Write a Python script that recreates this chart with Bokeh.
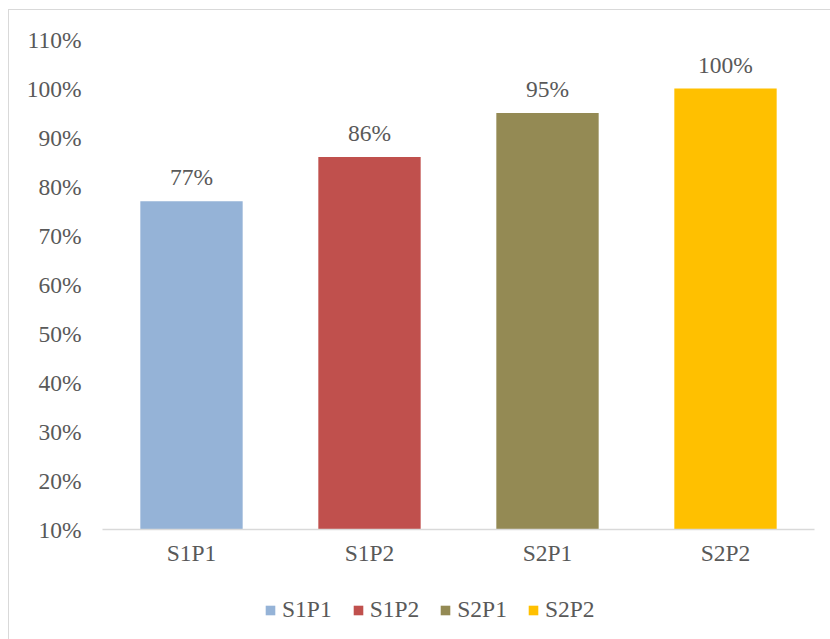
from bokeh.plotting import figure
from bokeh.layouts import column
from bokeh.models import ColumnDataSource, Range1d, NumeralTickFormatter, Legend, LegendItem, FixedTicker
from bokeh.core.properties import value
from bokeh.embed import file_html
from bokeh.resources import INLINE

categories = ["S1P1", "S1P2", "S2P1", "S2P2"]
values = [0.77, 0.86, 0.95, 1.00]
labels = ["77%", "86%", "95%", "100%"]
colors = ["#95B3D7", "#C0504D", "#948A54", "#FFC000"]
y_ticks = [0.1, 0.2, 0.3, 0.4, 0.5, 0.6, 0.7, 0.8, 0.9, 1.0, 1.1]

FONT = "Liberation Serif"
TXT = "#595959"
FS = "23.5px"

src = ColumnDataSource(dict(cat=categories, val=values, lab=labels, col=colors))

p = figure(x_range=categories, y_range=Range1d(0.1, 1.1), width=821, height=570,
           output_backend="svg", toolbar_location=None,
           min_border_left=93, min_border_right=16, min_border_top=29, min_border_bottom=51)
p.outline_line_color = None
p.xgrid.grid_line_color = None
p.ygrid.grid_line_color = None

p.vbar(x="cat", top="val", bottom=0.1, width=0.575, fill_color="col", line_color=None, source=src)
p.text(x="cat", y="val", text="lab", source=src, text_align="center", text_baseline="middle",
       y_offset=-24, text_font=value(FONT), text_font_size=FS, text_color=TXT)

p.yaxis.ticker = FixedTicker(ticks=y_ticks)
p.yaxis.formatter = NumeralTickFormatter(format="0%")
p.yaxis.axis_line_color = None
p.yaxis.major_tick_line_color = None
p.yaxis.minor_tick_line_color = None
p.yaxis.major_tick_out = 0
p.yaxis.major_label_standoff = 21
p.xaxis.axis_line_color = "#d9d9d9"
p.xaxis.axis_line_width = 1.5
p.xaxis.major_tick_line_color = None
p.xaxis.minor_tick_line_color = None
p.xaxis.major_tick_out = 0
p.xaxis.major_label_standoff = 10
for ax in (p.xaxis, p.yaxis):
    ax.major_label_text_font = FONT
    ax.major_label_text_font_size = FS
    ax.major_label_text_color = TXT

# legend strip below the chart
leg = figure(x_range=categories, y_range=Range1d(5, 6), width=821, height=59,
             output_backend="svg", toolbar_location=None, min_border=0,
             x_axis_location=None, y_axis_location=None)
leg.outline_line_color = None
leg.xgrid.grid_line_color = None
leg.ygrid.grid_line_color = None
lr = leg.vbar(x="cat", top="val", bottom=0.1, width=0.575, fill_color="col", line_color=None, source=src)

items = [LegendItem(label=c, renderers=[lr], index=i) for i, c in enumerate(categories)]
legend = Legend(items=items, orientation="horizontal", location=(162, 16),
                label_text_font=FONT, label_text_font_size=FS, label_text_color=TXT,
                glyph_width=12, glyph_height=12, spacing=20, label_standoff=6,
                border_line_color=None, background_fill_alpha=0, padding=0, margin=0)
leg.add_layout(legend, "center")

layout = column(p, leg, spacing=0,
                styles={"margin-left": "8px", "margin-top": "9px",
                        "border-left": "1px solid #d9d9d9", "border-top": "1px solid #d9d9d9"})

open("out.html", "w").write(file_html(layout, INLINE))
